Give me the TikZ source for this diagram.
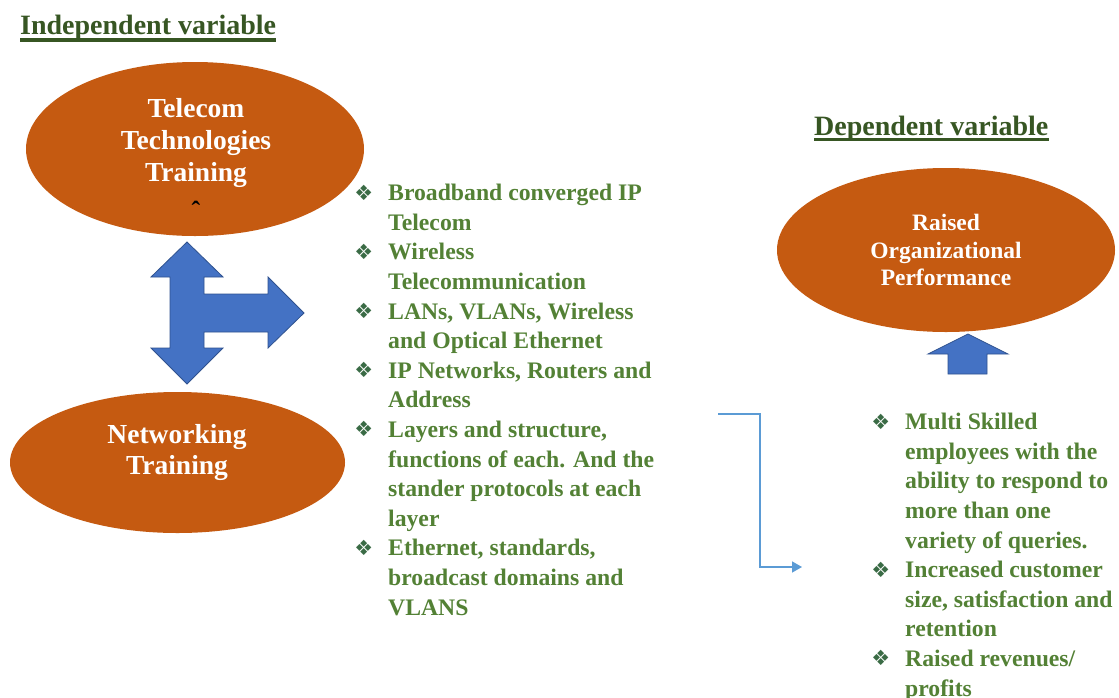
\documentclass[tikz,border=0pt]{standalone}
\usepackage{fontspec}
\setmainfont{Liberation Serif}
\newfontfamily\symfont{DejaVu Sans}
\usetikzlibrary{shapes.geometric,arrows.meta,calc}

\definecolor{rust}{HTML}{C55A11}
\definecolor{headgreen}{HTML}{375623}
\definecolor{listgreen}{HTML}{538135}
\definecolor{markgreen}{HTML}{3A6B45}
\definecolor{arrowblue}{HTML}{4472C4}
\definecolor{arrowedge}{HTML}{2F528F}
\definecolor{linkblue}{HTML}{5B9BD5}

% bullet ornament hanging left of a list line
\newcommand{\itemmark}{\llap{\textcolor{markgreen}{\symfont\fontsize{21}{21}\selectfont\raisebox{0.5pt}{❖}}\hspace{15pt}}}

\begin{document}
\begin{tikzpicture}[x=1pt,y=-1pt,
  heading/.style={anchor=base west,inner sep=0pt,text=headgreen,
    font=\bfseries\fontsize{28}{30}\selectfont},
  blob/.style={ellipse,fill=rust,inner sep=0pt},
  blobtext/.style={text=white,align=center,inner sep=0pt},
  listtext/.style={anchor=north west,inner sep=0pt,align=left,text=listgreen,
    font=\bfseries\fontsize{23.7}{29.6}\selectfont},
  blockarrow/.style={fill=arrowblue,draw=arrowedge,line width=0.8pt,line join=miter},
  link/.style={draw=linkblue,line width=1.4pt,-{Triangle[length=10pt,width=11pt]}}
]
\useasboundingbox (0,0) rectangle (1119,697);
\fill[white] (0,0) rectangle (1119,697);

% headings with underline
\node[heading] (indep) at (20,34) {Independent variable};
\draw[headgreen,line width=3.5pt] ($(indep.base west)+(0,6)$) -- ($(indep.base east)+(0,6)$);
\node[heading] (dep) at (814,135) {Dependent variable};
\draw[headgreen,line width=3.5pt] ($(dep.base west)+(0,4.5)$) -- ($(dep.base east)+(0,4.5)$);

% ellipses
\node[blob,minimum width=338pt,minimum height=174pt] (telecom) at (195,149) {};
\node[blobtext,font=\bfseries\fontsize{27.5}{32}\selectfont] (telecomtxt) at (196,143)
  {Telecom\\Technologies\\Training};
\node[inner sep=0pt,font=\bfseries\fontsize{26}{26}\selectfont] (tick) at (196,210) {ˆ};

\node[blob,minimum width=335pt,minimum height=141pt] (network) at (177.5,462.5) {};
\node[blobtext,font=\bfseries\fontsize{27.5}{31}\selectfont] (networktxt) at (177,452)
  {Networking\\Training};

\node[blob,minimum width=338pt,minimum height=164pt] (raised) at (946,250) {};
\node[blobtext,font=\bfseries\fontsize{23.5}{27.5}\selectfont] (raisedtxt) at (946,250)
  {Raised\\Organizational\\Performance};

% three-way block arrow between the trainings and the topic list
\path[blockarrow] (187,242) -- (223,277) -- (204,277) -- (204,294) -- (268,294)
  -- (268,277) -- (304,313) -- (268,348) -- (268,332) -- (204,332) -- (204,348)
  -- (223,348) -- (187,384) -- (151,348) -- (170,348) -- (170,277) -- (151,277) -- cycle;

% upward block arrow into the dependent variable
\path[blockarrow] (968,334) -- (1008,354) -- (987,354) -- (987,374) -- (948,374)
  -- (948,354) -- (928,354) -- cycle;

% training topics
\node[listtext] (topics) at (388,184)
  {\itemmark Broadband converged IP\\
   Telecom\\
   \itemmark Wireless\\
   Telecommunication\\
   \itemmark LANs, VLANs, Wireless\\
   and Optical Ethernet\\
   \itemmark IP Networks, Routers and\\
   Address\\
   \itemmark Layers and structure,\\
   functions of each. And the\\
   stander protocols at each\\
   layer\\
   \itemmark Ethernet, standards,\\
   broadcast domains and\\
   VLANS};

% outcomes
\node[listtext] (outcomes) at (905,413)
  {\itemmark Multi Skilled\\
   employees with the\\
   ability to respond to\\
   more than one\\
   variety of queries.\\
   \itemmark Increased customer\\
   size, satisfaction and\\
   retention\\
   \itemmark Raised revenues/\\
   profits};

% elbow connector from topics to outcomes
\coordinate (linkstart) at (718,414);
\coordinate (linkend) at (802,567);
\draw[link] (linkstart) -- ++(42,0) |- (linkend);
\end{tikzpicture}
\end{document}
